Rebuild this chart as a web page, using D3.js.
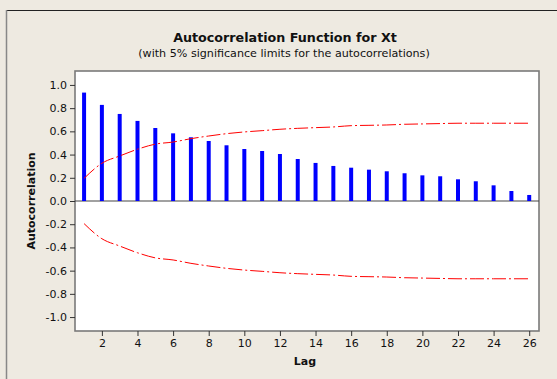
<!DOCTYPE html>
<html><head><meta charset="utf-8">
<script src="https://cdn.jsdelivr.net/npm/d3@7"></script>
<style>
html,body{margin:0;padding:0;background:#EEEAE1;}
svg{display:block;}
text{font-family:"DejaVu Sans",Verdana,sans-serif;fill:#111;}
</style></head>
<body>
<svg id="c" width="557" height="379"></svg>
<script>
const lags = [1,2,3,4,5,6,7,8,9,10,11,12,13,14,15,16,17,18,19,20,21,22,23,24,25,26];
const acf = [0.934,0.828,0.750,0.690,0.629,0.583,0.549,0.517,0.480,0.448,0.431,0.405,0.362,
             0.328,0.302,0.287,0.270,0.256,0.239,0.221,0.213,0.187,0.170,0.135,0.086,0.052];
const limit = [0.195,0.325,0.388,0.446,0.490,0.508,0.537,0.560,0.580,0.595,0.606,0.618,0.626,
               0.632,0.638,0.649,0.652,0.655,0.661,0.664,0.667,0.670,0.670,0.670,0.670,0.670];
const xTicks = [2,4,6,8,10,12,14,16,18,20,22,24,26];
const yTicks = [-1.0,-0.8,-0.6,-0.4,-0.2,0.0,0.2,0.4,0.6,0.8,1.0];
const title = "Autocorrelation Function for Xt";
const subtitle = "(with 5% significance limits for the autocorrelations)";

const svg = d3.select("#c");
const W = 557, H = 379;
const plot = {left:75, top:71, right:539, bottom:331};

svg.append("rect").attr("width",W).attr("height",H).attr("fill","#EEEAE1");
// outer frame
svg.append("line").attr("x1",6).attr("x2",W).attr("y1",10.5).attr("y2",10.5).attr("stroke","#222").attr("stroke-width",1.2);
svg.append("line").attr("x1",6.5).attr("x2",6.5).attr("y1",10).attr("y2",H).attr("stroke","#888").attr("stroke-width",1.5);

const x = d3.scaleLinear().domain([0.49, 26.55]).range([plot.left, plot.right]);
const y = d3.scaleLinear().domain([-1.12, 1.12]).range([plot.bottom, plot.top]);

svg.append("rect").attr("x",plot.left).attr("y",plot.top)
  .attr("width",plot.right-plot.left).attr("height",plot.bottom-plot.top)
  .attr("fill","#fff").attr("stroke","#7a7a7a").attr("stroke-width",1.6);

function fit(sel, target){
  const len = sel.node().getComputedTextLength();
  const fs = parseFloat(sel.attr("font-size"));
  sel.attr("font-size", fs*target/len);
}

fit(svg.append("text").attr("x",285).attr("y",42).attr("text-anchor","middle")
  .attr("font-size",12).attr("font-weight","bold").text(title), 224);
fit(svg.append("text").attr("x",284).attr("y",57).attr("text-anchor","middle")
  .attr("font-size",11).text(subtitle), 292);

// axes
const ya = svg.append("g").attr("transform",`translate(${plot.left},0)`)
  .call(d3.axisLeft(y).tickValues(yTicks).tickFormat(d3.format(".1f")).tickSize(5).tickPadding(3));
const xa = svg.append("g").attr("transform",`translate(0,${plot.bottom})`)
  .call(d3.axisBottom(x).tickValues(xTicks).tickSize(5).tickPadding(3));
[ya,xa].forEach(g=>{
  g.select(".domain").remove();
  g.selectAll(".tick line").attr("stroke","#333");
  g.selectAll(".tick text").attr("font-size",11).attr("font-family","DejaVu Sans, sans-serif").attr("fill","#111");
});
ya.selectAll(".tick text").text(d=>d3.format(".1f")(d).replace("−","-"));

// zero line
svg.append("line").attr("x1",plot.left).attr("x2",plot.right).attr("y1",y(0)).attr("y2",y(0))
  .attr("stroke","#444").attr("stroke-width",1.2);

// bars
svg.append("g").selectAll("line").data(lags).join("line")
  .attr("x1",d=>x(d)).attr("x2",d=>x(d))
  .attr("y1",y(0)).attr("y2",(d,i)=>y(acf[i]))
  .attr("stroke","#0000FF").attr("stroke-width",4);

// significance limits
const line = d3.line().x(d=>x(d[0])).y(d=>y(d[1])).curve(d3.curveMonotoneX);
const up = lags.map((l,i)=>[l,limit[i]]);
const lo = lags.map((l,i)=>[l,-limit[i]]);
[up,lo].forEach(p=>{
  svg.append("path").attr("d",line(p)).attr("fill","none").attr("stroke","#FF0000")
    .attr("stroke-width",1).attr("stroke-dasharray","14,3,2,3");
});

// axis titles
svg.append("text").attr("x",305).attr("y",365).attr("text-anchor","middle")
  .attr("font-size",11).attr("font-weight","bold").text("Lag");
svg.append("text").attr("transform","translate(35,201) rotate(-90)").attr("text-anchor","middle")
  .attr("font-size",11).attr("font-weight","bold").text("Autocorrelation");
</script>
</body></html>
